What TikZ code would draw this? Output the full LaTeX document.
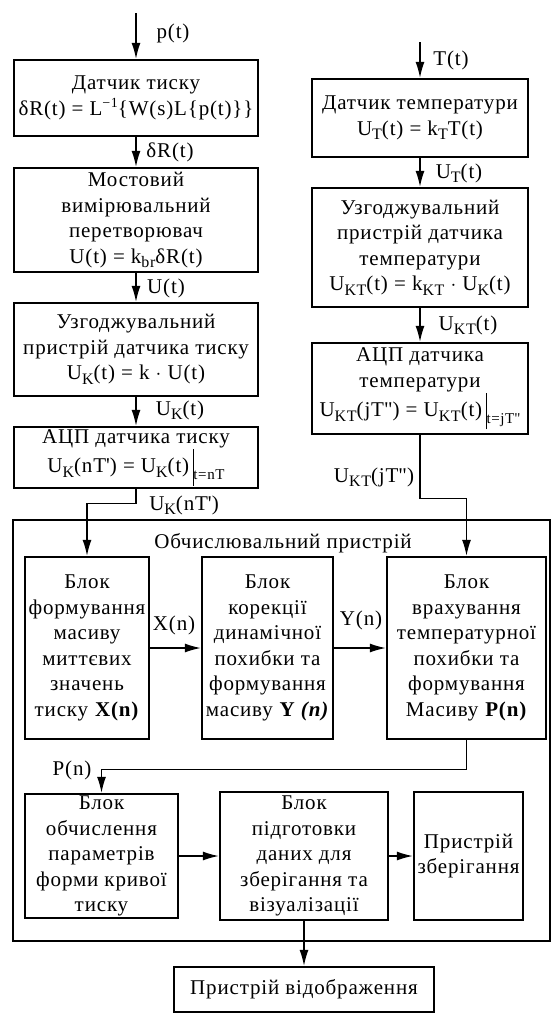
\documentclass[tikz,border=0pt]{standalone}
\usepackage{fontspec}
\setmainfont{Liberation Serif}[LetterSpace=4]
\usetikzlibrary{positioning}
\usetikzlibrary{arrows.meta}
\newcommand{\lo}[1]{\raisebox{-0.45ex}{\fontsize{16}{16}\selectfont #1}}
\newcommand{\hi}[1]{\raisebox{0.8ex}{\fontsize{14}{14}\selectfont #1}}
\newcommand{\evalat}[1]{\,\rule[-1.3ex]{0.8pt}{3.8ex}\raisebox{-0.7ex}{\fontsize{15}{15}\selectfont #1}}

\begin{document}
\begin{tikzpicture}[x=1pt, y=1pt, >={Latex[length=16pt,width=9pt]},
font=\fontsize{21}{25.5}\selectfont,
block/.style 2 args={draw, line width=2.4pt, align=center, inner sep=0pt, minimum width=#1, minimum height=#2},
wire/.style={line width=1.3pt},
sig/.style={inner sep=0pt}]
\useasboundingbox (0,0) rectangle (552,-1015);

% pressure channel
\node [block={244}{76}] (sensP) at (136,-98) {Датчик тиску\\ δR(t) = L\hi{−1}\{W(s)L\{p(t)\}\}};
\node [block={244}{104}] (bridge) at (136,-220) {Мостовий\\ вимірювальний\\ перетворювач\\ U(t) = k\lo{br}δR(t)};
\node [block={244}{93}] (matchP) at (136,-349.5) {Узгоджувальний\\ пристрій датчика тиску\\ U\lo{K}(t) = k $\cdot$ U(t)};
\node [block={244}{61}] (adcP) at (136,-457.5) {АЦП датчика тиску\\ U\lo{K}(nT\textquotesingle) = U\lo{K}(t)\evalat{t=nT}};

% temperature channel
\node [block={216}{78}] (sensT) at (420,-118) {Датчик температури\\ U\lo{T}(t) = k\lo{T}T(t)};
\node [block={216}{119}] (matchT) at (420,-247.5) {Узгоджувальний\\ пристрій датчика\\ температури\\ U\lo{KT}(t) = k\lo{KT} $\cdot$ U\lo{K}(t)};
\node [block={216}{91}] (adcT) at (420,-388.5) {АЦП датчика\\ температури\\ U\lo{KT}(jT\textquotedbl) = U\lo{KT}(t)\evalat{t=jT\textquotedbl}};

% computing unit
\node [draw, line width=2pt, inner sep=0pt, minimum width=537, minimum height=421] (unit) at (281.5,-730.5) {};
\node [sig] (unitLbl) at (283,-543) {Обчислювальний пристрій};
\node [block={124}{182}] (blkA) at (87,-648) {Блок\\ формування\\ масиву\\ миттєвих\\ значень\\ тиску \textbf{X(n)}};
\node [block={131}{182}] (blkB) at (267.5,-648) {Блок\\ корекції\\ динамічної\\ похибки та\\ формування\\ масиву \textbf{Y \textit{(n)}}};
\node [block={159}{182}] (blkC) at (466.5,-648) {Блок\\ врахування\\ температурної\\ похибки та\\ формування\\ Масиву \textbf{P(n)}};
\node [block={153}{124}] (blkD) at (101.5,-856) {Блок\\ обчислення\\ параметрів\\ форми кривої\\ тиску};
\node [block={168}{128}] (blkE) at (304,-856) {Блок\\ підготовки\\ даних для\\ зберігання та\\ візуалізації};
\node [block={109}{128}] (blkF) at (468.5,-856) {Пристрій\\ зберігання};
\node [block={260}{45}] (disp) at (304,-989.5) {Пристрій відображення};

% inputs
\coordinate (pIn) at (136,-13);
\coordinate (tIn) at (420,-42);

% signal labels
\node [sig] (lblP) at (173,-33) {p(t)};
\node [sig] (lblDR) at (170,-152) {δR(t)};
\node [sig] (lblU) at (166,-288) {U(t)};
\node [sig] (lblUK) at (180,-410) {U\lo{K}(t)};
\node [sig] (lblUKn) at (184,-505) {U\lo{K}(nT\textquotesingle)};
\node [sig] (lblT) at (451,-60) {T(t)};
\node [sig] (lblUT) at (459,-173) {U\lo{T}(t)};
\node [sig] (lblUKT) at (468,-325) {U\lo{KT}(t)};
\node [sig] (lblUKTj) at (374,-477) {U\lo{KT}(jT\textquotedbl)};
\node [sig] (lblX) at (174,-625) {X(n)};
\node [sig] (lblY) at (361,-620) {Y(n)};
\node [sig] (lblPn) at (72,-770) {P(n)};

% connections
\draw[wire,->] (pIn) -- (sensP);
\draw[wire,->] (sensP) -- (bridge);
\draw[wire,->] (bridge) -- (matchP);
\draw[wire,->] (matchP) -- (adcP);
\draw[wire,->] (adcP.south) -- ++(0,-14) -| (blkA.north);
\draw[wire,->] (tIn) -- (sensT);
\draw[wire,->] (sensT) -- (matchT);
\draw[wire,->] (matchT) -- (adcT);
\draw[wire,->] (adcT.south) -- ++(0,-63) -| (blkC.north);
\draw[wire,->] (blkA) -- (blkB);
\draw[wire,->] (blkB) -- (blkC);
\draw[wire,->] (blkC.south) -- ++(0,-29) -| (blkD.north);
\draw[wire,->] (blkD) -- (blkE);
\draw[wire,->] (blkE) -- (blkF);
\draw[wire,->] (blkE) -- (disp);

\end{tikzpicture}
\end{document}
